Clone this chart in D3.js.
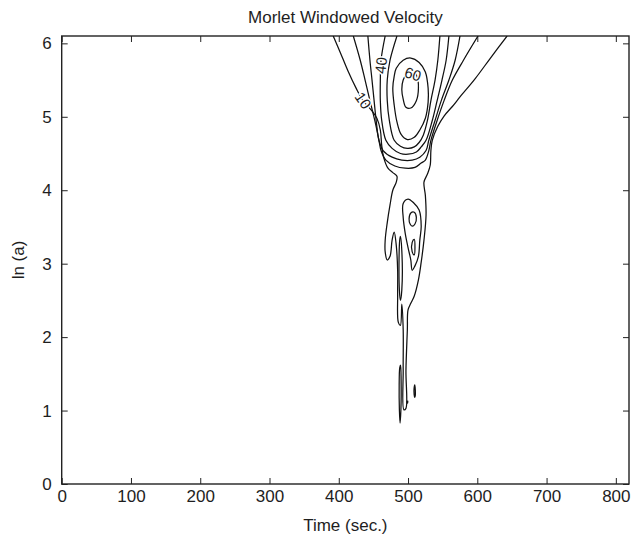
<!DOCTYPE html>
<html>
<head>
<meta charset="utf-8">
<script src="https://cdn.jsdelivr.net/npm/d3@7"></script>
<style>
  body { margin: 0; background: #fff; }
  svg text { font-family: "Liberation Sans", Arial, Helvetica, sans-serif; fill: #1e1e1e; }
</style>
</head>
<body>
<svg id="chart" width="635" height="542"></svg>
<script>
// ---- chart text and axes ----
const chartTitle = "Morlet Windowed Velocity";
const xLabel = "Time (sec.)";
const yLabel = "ln (a)";
const xTicks = [0, 100, 200, 300, 400, 500, 600, 700, 800];
const yTicks = [0, 1, 2, 3, 4, 5, 6];
const xDomain = [0, 819];
const yDomain = [0, 6.1];

// ---- contour lines of the windowed velocity, points are [time (s), ln(a)] ----
const level10Main = [
  [392, 6.10], [402, 5.88], [413, 5.63], [425, 5.39], [435, 5.22], [447, 5.09], [455, 4.98],
  [460, 4.82], [462, 4.61], [465, 4.44], [471, 4.30], [478, 4.24], [484, 4.19], [483, 4.11],
  [478, 4.00], [474, 3.80], [470, 3.56], [467, 3.32], [467, 3.16], [470, 3.05], [474, 3.10],
  [477, 3.32], [480, 3.43], [483, 3.25], [485, 2.91], [485, 2.57], [486, 2.20], [489, 2.16],
  [491, 2.45], [493, 2.10], [493, 1.55], [494, 1.01], [497, 1.03], [497, 1.55], [499, 2.10],
  [500, 2.37], [504, 2.46], [509, 2.56], [515, 2.78], [519, 3.02], [523, 3.32], [526, 3.66],
  [525, 3.93], [523, 4.11], [528, 4.22], [532, 4.34], [533, 4.54], [535, 4.68], [543, 4.87],
  [552, 5.01], [564, 5.14], [575, 5.27], [597, 5.52], [619, 5.80], [643, 6.10]
];
const level10Sliver = [
  [488, 1.58], [489.2, 1.62], [490, 1.41], [489.7, 1.01], [488.5, 0.83], [487.5, 1.01], [487.2, 1.35]
];
const level10Fleck = [
  [508.7, 1.30], [509.7, 1.35], [510.5, 1.28], [510.4, 1.20], [509.5, 1.18], [508.8, 1.22]
];
const level10Dot = [[498.6, 1.12], [499.6, 1.13], [499.2, 1.10]];

const level20Upper = [
  [421, 6.10], [431, 5.77], [438, 5.50], [445, 5.22], [452, 4.95], [458, 4.68], [461, 4.54],
  [468, 4.41], [481, 4.33], [496, 4.30], [510, 4.31], [519, 4.37], [525, 4.41], [530, 4.54],
  [533, 4.68], [542, 4.95], [552, 5.22], [564, 5.50], [580, 5.77], [601, 6.10]
];
const level20Middle = [
  [493, 3.82], [500, 3.88], [508, 3.83], [516, 3.73], [519, 3.51], [517, 3.32], [515, 3.10],
  [510, 2.97], [506, 2.91], [504, 3.05], [500, 3.22], [496, 3.41], [493, 3.63]
];
const level20Finger = [
  [488, 3.32], [489, 3.37], [491, 3.18], [491, 2.64], [489, 2.50], [487.5, 2.64], [487, 3.05]
];

const level30Upper = [
  [442, 6.10], [445, 5.77], [448, 5.50], [451, 5.22], [454, 4.95], [458, 4.68], [464, 4.54],
  [477, 4.45], [491, 4.41], [506, 4.41], [517, 4.45], [526, 4.54], [530, 4.68], [539, 4.95],
  [548, 5.22], [559, 5.50], [568, 5.77], [575, 6.10]
];
const level30Oval = [
  [501.5, 3.61], [504, 3.69], [509, 3.70], [512, 3.63], [510, 3.54], [506, 3.51], [503, 3.54]
];
const level30Sliver = [[506, 3.29], [509, 3.33], [510, 3.22], [509, 3.12], [506, 3.16]];

const level40Upper = [
  [467, 6.10], [461, 5.77], [460, 5.50], [460, 5.22], [462, 4.95], [468, 4.68], [477, 4.57],
  [489, 4.50], [500, 4.49], [512, 4.52], [519, 4.59], [526, 4.68], [535, 4.95], [542, 5.22],
  [549, 5.50], [555, 5.77], [559, 6.10]
];
const level50Upper = [
  [484, 6.10], [474, 5.77], [470, 5.50], [470, 5.22], [473, 4.95], [480, 4.68], [489, 4.60],
  [499, 4.57], [509, 4.59], [516, 4.65], [522, 4.75], [528, 4.95], [533, 5.22], [539, 5.50],
  [543, 5.77], [546, 6.10]
];
const level55Oval = [
  [483, 5.66], [493, 5.77], [504, 5.80], [516, 5.74], [525, 5.61], [529, 5.39], [529, 5.20],
  [525, 4.98], [517, 4.82], [509, 4.72], [499, 4.69], [490, 4.76], [484, 4.93], [480, 5.16],
  [478, 5.39], [480, 5.55]
];
const level60Oval = [
  [493, 5.50], [499, 5.59], [507, 5.62], [513, 5.55], [515, 5.39], [512, 5.22], [504, 5.12],
  [497, 5.13], [493, 5.24], [491, 5.37]
];

const contourLines = [
  { level: 10, closed: false, points: level10Main },
  { level: 10, closed: true, points: level10Sliver },
  { level: 10, closed: true, points: level10Fleck },
  { level: 10, closed: true, points: level10Dot },
  { level: 20, closed: false, points: level20Upper },
  { level: 20, closed: true, points: level20Middle },
  { level: 20, closed: true, points: level20Finger },
  { level: 30, closed: false, points: level30Upper },
  { level: 30, closed: true, points: level30Oval },
  { level: 30, closed: true, points: level30Sliver },
  { level: 40, closed: false, points: level40Upper },
  { level: 50, closed: false, points: level50Upper },
  { level: 55, closed: true, points: level55Oval },
  { level: 60, closed: true, points: level60Oval }
];

// contour labels: which line carries the label and where along it
const labelLines = [level10Main, level40Upper, level60Oval];
const labelLevels = [10, 40, 60];
const labelAt = [[435, 5.22], [461, 5.70], [507, 5.58]];

// ---- layout ----
const svg = d3.select("#chart");
const plot = { left: 61.7, right: 629, top: 36, bottom: 484 };

const x = d3.scaleLinear().domain(xDomain).range([plot.left, plot.right]);
const y = d3.scaleLinear().domain(yDomain).range([plot.bottom, plot.top]);

svg.append("defs").append("clipPath").attr("id", "plotClip")
  .append("rect")
  .attr("x", plot.left).attr("y", plot.top)
  .attr("width", plot.right - plot.left).attr("height", plot.bottom - plot.top);

const tickFont = 17;

// bottom axis with labels, ticks pointing inward
svg.append("g")
  .attr("transform", `translate(0,${plot.bottom})`)
  .call(d3.axisBottom(x).tickValues(xTicks).tickFormat(d3.format("d"))
    .tickSizeInner(-6).tickSizeOuter(0).tickPadding(6));
// left axis
svg.append("g")
  .attr("transform", `translate(${plot.left},0)`)
  .call(d3.axisLeft(y).tickValues(yTicks).tickFormat(d3.format("d"))
    .tickSizeInner(-6).tickSizeOuter(0).tickPadding(10));
// top and right axes carry ticks only
svg.append("g")
  .attr("transform", `translate(0,${plot.top})`)
  .call(d3.axisTop(x).tickValues(xTicks).tickSizeInner(-6).tickSizeOuter(0).tickFormat(""));
svg.append("g")
  .attr("transform", `translate(${plot.right},0)`)
  .call(d3.axisRight(y).tickValues(yTicks).tickSizeInner(-6).tickSizeOuter(0).tickFormat(""));

svg.selectAll(".domain").remove();
svg.selectAll(".tick line").attr("stroke", "#222").attr("stroke-width", 1);
svg.selectAll(".tick text").attr("font-size", tickFont).attr("fill", "#1e1e1e")
  .style("font-family", '"Liberation Sans", Arial, sans-serif');

// frame
svg.append("rect")
  .attr("x", plot.left).attr("y", plot.top)
  .attr("width", plot.right - plot.left).attr("height", plot.bottom - plot.top)
  .attr("fill", "none").attr("stroke", "#222").attr("stroke-width", 1.4);

// ---- contours ----
const openLine = d3.line().x(d => x(d[0])).y(d => y(d[1])).curve(d3.curveCatmullRom.alpha(0.5));
const closedLine = d3.line().x(d => x(d[0])).y(d => y(d[1])).curve(d3.curveCatmullRomClosed.alpha(0.5));

const contourLayer = svg.append("g").attr("clip-path", "url(#plotClip)");
contourLayer.selectAll("path.contour")
  .data(contourLines)
  .join("path")
  .attr("class", "contour")
  .attr("d", c => (c.closed ? closedLine : openLine)(c.points))
  .attr("fill", "none")
  .attr("stroke", "#111")
  .attr("stroke-width", 1.25)
  .attr("stroke-linejoin", "round");

// ---- contour labels, rotated along the local direction of their line ----
labelLevels.forEach((lvl, i) => {
  const pts = labelLines[i];
  const at = labelAt[i];
  let best = 0, bestD = Infinity;
  pts.forEach((p, k) => {
    const d = (x(p[0]) - x(at[0])) ** 2 + (y(p[1]) - y(at[1])) ** 2;
    if (d < bestD) { bestD = d; best = k; }
  });
  const a = pts[Math.max(0, best - 1)], b = pts[Math.min(pts.length - 1, best + 1)];
  let ang = Math.atan2(y(b[1]) - y(a[1]), x(b[0]) - x(a[0])) * 180 / Math.PI;
  if (ang > 90) ang -= 180;
  if (ang < -90) ang += 180;
  svg.append("text")
    .attr("transform", `translate(${x(at[0])},${y(at[1])}) rotate(${ang})`)
    .attr("text-anchor", "middle")
    .attr("dy", "0.35em")
    .attr("font-size", 15)
    .attr("fill", "#1e1e1e")
    .attr("stroke", "#fff")
    .attr("stroke-width", 3)
    .attr("paint-order", "stroke")
    .text(lvl);
});

// ---- titles ----
svg.append("text")
  .attr("x", (plot.left + plot.right) / 2).attr("y", 23)
  .attr("text-anchor", "middle").attr("font-size", 17)
  .text(chartTitle);
svg.append("text")
  .attr("x", (plot.left + plot.right) / 2).attr("y", 531)
  .attr("text-anchor", "middle").attr("font-size", 17)
  .text(xLabel);
svg.append("text")
  .attr("transform", `translate(24,${(plot.top + plot.bottom) / 2}) rotate(-90)`)
  .attr("text-anchor", "middle").attr("font-size", 17)
  .text(yLabel);
</script>
</body>
</html>
